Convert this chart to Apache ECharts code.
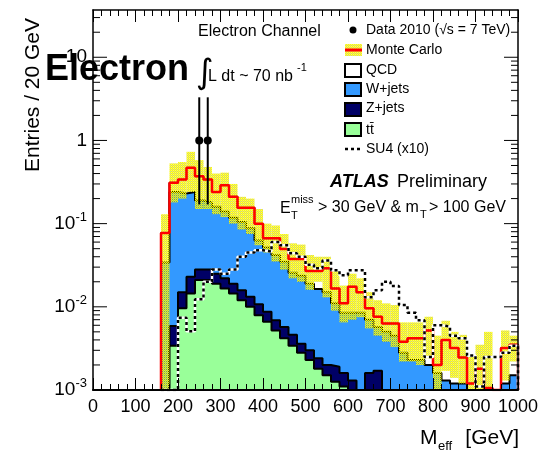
<!DOCTYPE html>
<html>
<head>
<meta charset="utf-8">
<script src="https://cdn.jsdelivr.net/npm/echarts@6/dist/echarts.min.js"></script>
<style>
  html, body { margin: 0; padding: 0; background: #ffffff; }
  #chart { width: 546px; height: 455px; }
</style>
</head>
<body>
<div id="chart"></div>
<script>
// Lower edges of the 20 GeV M_eff bins (GeV)
const binLow = [160, 180, 200, 220, 240, 260, 280, 300, 320, 340, 360, 380, 400, 420,
  440, 460, 480, 500, 520, 540, 560, 580, 600, 620, 640, 660, 680, 700,
  720, 740, 760, 780, 800, 820, 840, 860, 880, 900, 920, 940, 960, 980];
const binWidth = 20;

// Expected entries per bin, one array per background (stacked bottom-up)
const ttbar = [0, 0.0034, 0.0096, 0.0145, 0.021, 0.021, 0.019, 0.0166, 0.0145, 0.012, 0.010, 0.0079,
  0.0066, 0.0052, 0.0042, 0.0034, 0.0028, 0.0023, 0.0018, 0.0015, 0.00126, 0.0011,
  0, 0, 0, 0, 0, 0, 0, 0, 0, 0, 0, 0, 0, 0, 0, 0, 0, 0, 0, 0];
const zJets = [0, 0.0025, 0.0054, 0.0085, 0.007, 0.007, 0.006, 0.0054, 0.0045, 0.0038, 0.0032, 0.0028,
  0.0021, 0.0017, 0.0015, 0.0012, 0.0008, 0.0007, 0.0006, 0.0005, 0.00064, 0.0005,
  0.0013, 0, 0.0016, 0.0017, 0, 0, 0, 0, 0, 0, 0, 0, 0, 0, 0, 0, 0, 0, 0, 0];
const wJets = [0.034, 0.234, 0.215, 0.217, 0.162, 0.152, 0.135, 0.118, 0.099, 0.089, 0.075, 0.052,
  0.043, 0.035, 0.029, 0.021, 0.020, 0.016, 0.014, 0.013, 0.0091, 0.0069,
  0.0072, 0.0085, 0.0054, 0.004, 0.005, 0.0045, 0.0028, 0.0023, 0.0023, 0.002,
  0.0016, 0.0013, 0.0012, 0.0012, 0, 0.0008, 0, 0, 0.0012, 0.0015];
const qcd = [0.043, 0.07, 0.11, 0.23, 0.18, 0.16, 0.08, 0.15, 0.092, 0.05, 0.067, 0.037,
  0.015, 0.025, 0.015, 0.012, 0.014, 0.008, 0.0105, 0.014, 0.0056, 0.0025,
  0.0089, 0.0065, 0.0026, 0.0019, 0.0013, 0.0018, 0.001, 0.0019, 0.0019, 0.0032,
  0.0004, 0.0027, 0.002, 0.00126, 0.0012, 0.001, 0.00106, 0, 0.002, 0.002];

// Monte Carlo uncertainty band (upper / lower edge per bin)
const mcBandUp = [0.13, 0.53, 0.55, 0.73, 0.58, 0.48, 0.40, 0.41, 0.30, 0.21, 0.20, 0.15,
  0.10, 0.095, 0.075, 0.058, 0.056, 0.042, 0.04, 0.04, 0.027, 0.018,
  0.025, 0.022, 0.015, 0.012, 0.011, 0.0105, 0.0065, 0.0065, 0.0065, 0.0076,
  0.0045, 0.0068, 0.005, 0.0046, 0.0025, 0.0035, 0.005, 0, 0.0052, 0.0045];
const mcBandDown = [0, 0.18, 0.2, 0.24, 0.15, 0.15, 0.13, 0.12, 0.10, 0.085, 0.075, 0.055,
  0.045, 0.035, 0.028, 0.022, 0.02, 0.016, 0.02, 0.013, 0.009, 0.0065,
  0.007, 0.0075, 0.0055, 0.0045, 0.0038, 0.0033, 0.0022, 0.0022, 0.002, 0.0024,
  0, 0.0017, 0.0014, 0.0012, 0, 0.001, 0, 0, 0.0013, 0.0022];

// SUSY benchmark SU4, scaled by 10
const su4x10 = [0, 0, 0.0074, 0.0051, 0.0123, 0.02, 0.028, 0.025, 0.028, 0.040, 0.045, 0.048,
  0.046, 0.06, 0.055, 0.044, 0.04, 0.032, 0.029, 0.036, 0.0275, 0.024,
  0.0275, 0.0275, 0.013, 0.0158, 0.02, 0.0178, 0.0105, 0.0085, 0.0069, 0.0025,
  0.006, 0.0058, 0.0045, 0.0042, 0.0026, 0.0011, 0.0025, 0.0025, 0.0028, 0.0034];

// Data 2010: non-empty bins (centre, entries, error-bar ends)
const dataMeff = [250, 270];
const dataEntries = [1, 1];
const dataLow = [0.17, 0.17];
const dataHigh = [3.3, 3.3];

// Axis ranges
const xMin = 0, xMax = 1000, xStep = 100;
const yMin = 0.001, yMax = 37;

const FAMILY = '"Liberation Sans", Arial, Helvetica, sans-serif';

// ---- derived stack totals ----
const cumTT = ttbar.slice();
const cumZ = cumTT.map((v, i) => v + zJets[i]);
const cumW = cumZ.map((v, i) => v + wJets[i]);
const cumAll = cumW.map((v, i) => v + qcd[i]);

// Histogram outline as a closed step path (empty bins sit on the axis floor)
function stepPoints(vals) {
  const pts = [[binLow[0], yMin]];
  vals.forEach((v, i) => {
    const y = v > yMin ? v : yMin;
    pts.push([binLow[i], y], [binLow[i] + binWidth, y]);
  });
  pts.push([binLow[binLow.length - 1] + binWidth, yMin]);
  return pts;
}

// Dotted yellow fill used for the MC uncertainty band
function makeHatch() {
  const c = document.createElement('canvas');
  c.width = 2; c.height = 2;
  const g = c.getContext('2d');
  g.fillStyle = 'rgba(255,255,0,1)';
  g.fillRect(0, 0, 1, 1);
  g.fillRect(1, 1, 1, 1);
  g.fillStyle = 'rgba(230,230,0,0.55)';
  g.fillRect(1, 0, 1, 1);
  g.fillStyle = 'rgba(120,120,0,0.35)';
  g.fillRect(0, 1, 1, 1);
  return c;
}
const hatch = { image: makeHatch(), repeat: 'repeat' };

function histLayer(name, vals, fill, z) {
  return {
    name, type: 'line', data: stepPoints(vals), symbol: 'none', showSymbol: false,
    lineStyle: { color: '#000', width: 2 },
    areaStyle: { color: fill, opacity: 1, origin: 'start' },
    clip: true, animation: false, silent: true, z
  };
}

// Log-axis tick marks at 1..9 x 10^n on both vertical frame edges
const yTickMarks = [];
for (let e = -3; e <= 1; e++) {
  for (let m = 1; m <= 9; m++) {
    const v = m * Math.pow(10, e);
    if (v > yMin * 1.0001 && v < yMax) yTickMarks.push([0, v, m === 1 ? 1 : 0]);
  }
}

function txt(x, y, text, size, extra) {
  return {
    type: 'text', z: 100, x, y,
    style: Object.assign({ text, fontSize: size, fontFamily: FAMILY, fill: '#000', textVerticalAlign: 'middle' }, extra || {})
  };
}

const chart = echarts.init(document.getElementById('chart'), null, { renderer: 'canvas' });

const option = {
  animation: false,
  backgroundColor: '#ffffff',
  grid: { left: 93, right: 28, top: 10, bottom: 65, containLabel: false, outerBoundsMode: 'none' },
  xAxis: [
    {
      type: 'value', min: xMin, max: xMax, interval: xStep, position: 'bottom', z: 10,
      axisLine: { show: true, onZero: false, lineStyle: { color: '#000', width: 2 } },
      axisTick: { show: true, inside: true, length: 12, lineStyle: { color: '#000', width: 1 } },
      minorTick: { show: true, splitNumber: 5, length: 6, lineStyle: { color: '#000', width: 1 } },
      splitLine: { show: false },
      axisLabel: { color: '#000', fontSize: 18, fontFamily: FAMILY, margin: 8, formatter: v => String(v) }
    },
    {
      type: 'value', min: xMin, max: xMax, interval: xStep, position: 'top', z: 10,
      axisLine: { show: true, onZero: false, lineStyle: { color: '#000', width: 1.5 } },
      axisTick: { show: true, inside: true, length: 12, lineStyle: { color: '#000', width: 1 } },
      minorTick: { show: true, splitNumber: 5, length: 6, lineStyle: { color: '#000', width: 1 } },
      splitLine: { show: false },
      axisLabel: { show: false }
    }
  ],
  yAxis: [
    {
      type: 'log', logBase: 10, min: yMin, max: yMax, position: 'left', z: 10,
      axisLine: { show: true, onZero: false, lineStyle: { color: '#000', width: 1.5 } },
      axisTick: { show: false }, minorTick: { show: false }, splitLine: { show: false },
      axisLabel: {
        color: '#000', fontSize: 19, fontFamily: FAMILY, margin: 6, lineHeight: 26,
        showMaxLabel: false,
        formatter: function (v) {
          const e = Math.round(Math.log10(v));
          if (Math.abs(v / Math.pow(10, e) - 1) > 1e-6) return '';
          if (e === 0) return '1';
          if (e === 1) return '10';
          return '10{sup|' + e + '}';
        },
        rich: { sup: { fontSize: 13, lineHeight: 13, verticalAlign: 'top', fontFamily: FAMILY, color: '#000' } }
      }
    },
    {
      type: 'log', logBase: 10, min: yMin, max: yMax, position: 'right', z: 10,
      axisLine: { show: true, onZero: false, lineStyle: { color: '#000', width: 1.5 } },
      axisTick: { show: false }, minorTick: { show: false }, splitLine: { show: false },
      axisLabel: { show: false }
    }
  ],
  series: [
    // stacked backgrounds, drawn top of stack first
    histLayer('QCD', cumAll, '#ffffff', 2),
    histLayer('W+jets', cumW, '#3399ff', 3),
    histLayer('Z+jets', cumZ, '#000066', 4),
    histLayer('ttbar', cumTT, '#99ff99', 5),
    // MC uncertainty band
    {
      name: 'MC band', type: 'custom', z: 6, silent: true, animation: false,
      data: binLow.map((x, i) => [x, mcBandDown[i] > 0 ? mcBandDown[i] : yMin / 10, mcBandUp[i]])
        .filter(d => d[2] > 0),
      encode: { x: 0, y: [1, 2] },
      renderItem: function (params, api) {
        const x0 = api.value(0);
        const pHi = api.coord([x0, api.value(2)]);
        const pLo = api.coord([x0 + binWidth, api.value(1)]);
        const rect = echarts.graphic.clipRectByRect(
          { x: pHi[0], y: pHi[1], width: pLo[0] - pHi[0], height: pLo[1] - pHi[1] },
          params.coordSys
        );
        if (!rect) return null;
        return { type: 'rect', shape: rect, style: { fill: hatch } };
      }
    },
    // Monte Carlo total
    {
      name: 'Monte Carlo', type: 'line', data: stepPoints(cumAll), symbol: 'none', showSymbol: false,
      lineStyle: { color: '#ff0000', width: 2.5 }, clip: true, silent: true, z: 7
    },
    // SU4 (x10): white underlay with black dashes on top
    {
      name: 'SU4 base', type: 'line', data: stepPoints(su4x10), symbol: 'none', showSymbol: false,
      lineStyle: { color: '#ffffff', width: 2.5 }, clip: true, silent: true, z: 8
    },
    {
      name: 'SU4 (x10)', type: 'line', data: stepPoints(su4x10), symbol: 'none', showSymbol: false,
      lineStyle: { color: '#000000', width: 2.5, type: [3, 3] }, clip: true, silent: true, z: 9
    },
    // Data with Poisson error bars
    {
      name: 'Data 2010', type: 'custom', z: 11, silent: true, animation: false,
      data: dataMeff.map((x, i) => [x, dataEntries[i], dataLow[i], dataHigh[i]]),
      encode: { x: 0, y: 1 },
      renderItem: function (params, api) {
        const c = api.coord([api.value(0), api.value(1)]);
        const lo = api.coord([api.value(0), api.value(2)]);
        const hi = api.coord([api.value(0), api.value(3)]);
        return {
          type: 'group', children: [
            { type: 'line', shape: { x1: c[0], y1: lo[1], x2: c[0], y2: hi[1] }, style: { stroke: '#000', lineWidth: 2 } },
            { type: 'circle', shape: { cx: c[0], cy: c[1], r: 4 }, style: { fill: '#000' } }
          ]
        };
      }
    },
    // log-scale tick marks on the left and right frame
    {
      name: 'y ticks', type: 'custom', z: 12, silent: true, animation: false,
      data: yTickMarks, encode: { x: 0, y: 1 },
      renderItem: function (params, api) {
        const cs = params.coordSys;
        const y = api.coord([xMin, api.value(1)])[1];
        const len = api.value(2) ? 14 : 7;
        return {
          type: 'group', children: [
            { type: 'line', shape: { x1: cs.x, y1: y, x2: cs.x + len, y2: y }, style: { stroke: '#000', lineWidth: 1 } },
            { type: 'line', shape: { x1: cs.x + cs.width - len, y1: y, x2: cs.x + cs.width, y2: y }, style: { stroke: '#000', lineWidth: 1 } }
          ]
        };
      }
    }
  ],
  graphic: [
    // axis titles
    Object.assign(txt(33, 95, 'Entries / 20 GeV', 21, { textAlign: 'center' }), { rotation: Math.PI / 2 }),
    txt(420, 438, 'M', 21),
    txt(438, 446, 'eff', 13),
    txt(519, 438, '[GeV]', 21, { textAlign: 'right' }),
    // channel label and luminosity
    txt(45, 70, 'Electron', 36, { fontWeight: 'bold' }),
    txt(198, 32, 'Electron Channel', 16),
    txt(196, 74, '\u222B', 34, { fontFamily: '"DejaVu Sans", sans-serif' }),
    txt(208, 77, 'L dt ~ 70 nb', 16),
    txt(297, 68, '-1', 11),
    // ATLAS label and selection
    txt(330, 182, 'ATLAS', 18, { fontWeight: 'bold', fontStyle: 'italic' }),
    txt(397, 182, 'Preliminary', 18),
    txt(280, 209, 'E', 16),
    txt(291, 200, 'miss', 11),
    txt(291, 216, 'T', 11),
    txt(318, 208, '> 30 GeV & m', 16),
    txt(420, 215, 'T', 11),
    txt(429, 208, '> 100 GeV', 16),
    // legend
    { type: 'circle', z: 100, shape: { cx: 353, cy: 30, r: 3.5 }, style: { fill: '#000' } },
    txt(366, 30, 'Data 2010 (\u221As = 7 TeV)', 14),
    { type: 'rect', z: 100, shape: { x: 345, y: 44, width: 17, height: 12 }, style: { fill: hatch } },
    { type: 'line', z: 101, shape: { x1: 345, y1: 50, x2: 362, y2: 50 }, style: { stroke: '#ff0000', lineWidth: 3 } },
    txt(366, 50, 'Monte Carlo', 14),
    { type: 'rect', z: 100, shape: { x: 345, y: 64, width: 16, height: 13 }, style: { fill: '#ffffff', stroke: '#000', lineWidth: 2 } },
    txt(366, 70, 'QCD', 14),
    { type: 'rect', z: 100, shape: { x: 345, y: 83, width: 16, height: 13 }, style: { fill: '#3399ff', stroke: '#000', lineWidth: 2 } },
    txt(366, 89, 'W+jets', 14),
    { type: 'rect', z: 100, shape: { x: 345, y: 103, width: 16, height: 13 }, style: { fill: '#000066', stroke: '#000', lineWidth: 2 } },
    txt(366, 108, 'Z+jets', 14),
    { type: 'rect', z: 100, shape: { x: 345, y: 123, width: 16, height: 13 }, style: { fill: '#99ff99', stroke: '#000', lineWidth: 2 } },
    txt(366, 130, 'tt\u0304', 14),
    { type: 'line', z: 100, shape: { x1: 345, y1: 149, x2: 362, y2: 149 }, style: { stroke: '#000', lineWidth: 2.5, lineDash: [3, 3] } },
    txt(366, 149, 'SU4 (x10)', 14)
  ]
};

chart.setOption(option);
</script>
</body>
</html>
